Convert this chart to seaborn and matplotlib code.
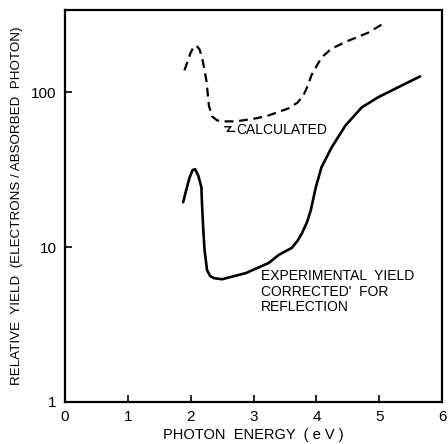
import matplotlib
matplotlib.use("Agg")
import matplotlib.pyplot as plt
import seaborn as sns
import pandas as pd

calc_energy = [1.90, 1.95, 1.99, 2.04, 2.09, 2.14, 2.18, 2.22, 2.25, 2.29, 2.34, 2.42, 2.50, 2.72, 3.04, 3.24, 3.56, 3.70, 3.79, 3.86, 3.92, 4.08, 4.24, 4.51, 4.83, 5.09]
calc_yield = [139, 158, 177, 195, 201, 190, 168, 140, 119, 82, 70, 66, 65, 65, 68, 71, 79, 86, 95, 110, 129, 168, 192, 216, 244, 283]

exp_energy = [1.88, 1.93, 1.98, 2.03, 2.07, 2.12, 2.17, 2.18, 2.20, 2.22, 2.26, 2.31, 2.37, 2.50, 2.88, 3.24, 3.40, 3.61, 3.70, 3.77, 3.85, 3.91, 3.99, 4.08, 4.24, 4.46, 4.72, 4.98, 5.30, 5.65]
exp_yield = [19.5, 23.5, 28, 31.5, 31.9, 29, 24.4, 19, 13, 9.6, 7.1, 6.5, 6.3, 6.2, 6.8, 7.9, 8.9, 9.9, 11.0, 12.3, 14.5, 17.3, 24.4, 32.8, 44, 61, 80, 93, 108, 127]

x_ticks = [0, 1, 2, 3, 4, 5, 6]
y_ticks = [1, 10, 100]
y_tick_labels = ["1", "10", "100"]

sns.set_style("ticks")
plt.rcParams['font.family'] = ['Liberation Sans', 'DejaVu Sans']
plt.rcParams.update({"text.color": "black", "axes.labelcolor": "black",
                     "xtick.color": "black", "ytick.color": "black",
                     "axes.edgecolor": "black"})

calc_df = pd.DataFrame({"energy": calc_energy, "yield": calc_yield})
exp_df = pd.DataFrame({"energy": exp_energy, "yield": exp_yield})

fig = plt.figure(figsize=(4.48, 4.44), dpi=100)
ax = fig.add_axes([0.145, 0.095, 0.842, 0.882])

sns.lineplot(data=calc_df, x="energy", y="yield", ax=ax, color="black",
             linewidth=1.6, linestyle=(0, (4, 2.5)), sort=False)
sns.lineplot(data=exp_df, x="energy", y="yield", ax=ax, color="black",
             linewidth=1.9, sort=False)
for ln in ax.lines:
    ln.set_solid_joinstyle("round")
    ln.set_dash_joinstyle("round")

ax.set_yscale("log")
ax.set_xlim(0, 5.96)
ax.set_ylim(1, 340)
ax.set_xticks(x_ticks)
ax.set_xticklabels([str(t) for t in x_ticks])
ax.set_yticks(y_ticks)
ax.set_yticklabels(y_tick_labels)
ax.minorticks_off()
ax.tick_params(direction="in", length=5, width=1.2, labelsize=11, pad=6, colors="black")
for s in ax.spines.values():
    s.set_linewidth(1.6)
    s.set_color("black")
    s.set_visible(True)

ax.set_xlabel("PHOTON  ENERGY  ( e V )", fontsize=10.5, labelpad=3, color="black")
ax.set_ylabel("RELATIVE  YIELD  (ELECTRONS / ABSORBED  PHOTON)", fontsize=9.6, labelpad=6, color="black")

ax.text(2.72, 57, "CALCULATED", fontsize=10, va="center", ha="left", color="black")
ax.plot([2.54, 2.64, 2.58, 2.70], [60, 60, 56, 56], color="black", linewidth=1.0)
ax.text(3.12, 7.2, "EXPERIMENTAL  YIELD\nCORRECTED'  FOR\nREFLECTION", fontsize=10,
        va="top", ha="left", linespacing=1.15, color="black")

fig.savefig("out.png", dpi=100)
